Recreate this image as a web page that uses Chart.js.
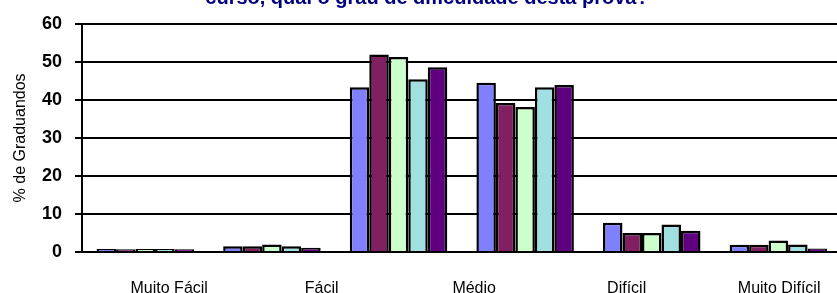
<!DOCTYPE html>
<html>
<head>
<meta charset="utf-8">
<script src="https://cdn.jsdelivr.net/npm/chart.js@4"></script>
<style>
    html, body { margin: 0; padding: 0; background: #fff; overflow: hidden; }
    #wrap { width: 848px; height: 293px; }
</style>
</head>
<body>
<div id="wrap"><canvas id="chart" width="848" height="293"></canvas></div>
<script>
// Axis labels shown under the plot
const categories = ['Muito Fácil', 'Fácil', 'Médio', 'Difícil', 'Muito Difícil'];
// Bar groups (six groups are drawn in the picture)
const groups = ['1', '2', '3', '4', '5', '6'];

// % de Graduandos, one array per series
const serie1 = [0.8, 1.5, 43.3, 44.5, 7.7, 1.9];
const serie2 = [0.7, 1.5, 51.9, 39.2, 5.0, 1.9];
const serie3 = [0.8, 2.0, 51.3, 38.1, 5.0, 3.0];
const serie4 = [0.8, 1.5, 45.4, 43.3, 7.2, 2.0];
const serie5 = [0.7, 1.1, 48.6, 43.9, 5.6, 0.9];

const yTicks = [0, 10, 20, 30, 40, 50, 60];
const titleText = 'curso, qual o grau de dificuldade desta prova?';

const colors = ['#8080FF', '#802060', '#CCFFCC', '#A0E0E0', '#600080'];

const series = [serie1, serie2, serie3, serie4, serie5];

// title is clipped by the top edge in the reference
const clippedTitle = {
    id: 'clippedTitle',
    afterDraw(chart) {
        const ctx = chart.ctx;
        ctx.save();
        ctx.font = 'bold 20px "Liberation Sans", Arial, sans-serif';
        ctx.fillStyle = '#000080';
        ctx.textAlign = 'center';
        ctx.textBaseline = 'alphabetic';
        ctx.fillText(titleText, 427, 4);
        ctx.restore();
    }
};

new Chart(document.getElementById('chart'), {
    type: 'bar',
    data: {
        labels: groups,
        datasets: series.map((s, i) => ({
            label: 'Série ' + (i + 1),
            data: s,
            backgroundColor: colors[i],
            borderColor: '#000',
            borderWidth: 2.5,
            borderSkipped: 'start',
            barPercentage: 1,
            categoryPercentage: 0.77,
            xAxisID: 'x'
        }))
    },
    options: {
        responsive: false,
        animation: false,
        layout: { padding: { top: 22, left: 0, right: 0, bottom: 0 } },
        plugins: {
            legend: { display: false },
            tooltip: { enabled: false }
        },
        scales: {
            x: {
                type: 'category',
                display: false
            },
            xl: {
                type: 'linear',
                position: 'bottom',
                offset: false,
                min: -0.572,
                max: 4.41,
                grid: { display: false, drawTicks: false, offset: false },
                border: { display: false },
                afterBuildTicks(axis) {
                    axis.ticks = categories.map((_, i) => ({ value: i }));
                },
                afterFit(axis) { axis.height = 41; },
                ticks: {
                    autoSkip: false,
                    maxRotation: 0,
                    padding: 27,
                    color: '#000',
                    font: { family: '"Liberation Sans", Arial, sans-serif', size: 16 },
                    callback: (v) => categories[v]
                }
            },
            y: {
                min: 0,
                max: 60,
                afterBuildTicks(axis) {
                    axis.ticks = yTicks.map(v => ({ value: v }));
                },
                afterFit(axis) { axis.width = 82; },
                grid: {
                    color: '#000',
                    lineWidth: 2,
                    drawTicks: true,
                    tickLength: 7,
                    tickColor: '#000'
                },
                border: { display: true, color: '#000', width: 2 },
                ticks: {
                    padding: 13,
                    color: '#000',
                    font: { family: '"Liberation Sans", Arial, sans-serif', size: 18, weight: 'bold' }
                },
                title: {
                    display: true,
                    text: '% de Graduandos',
                    color: '#000',
                    padding: { top: 11, bottom: 0 },
                    font: { family: '"Liberation Sans", Arial, sans-serif', size: 16 }
                }
            }
        }
    },
    plugins: [clippedTitle]
});
</script>
</body>
</html>
